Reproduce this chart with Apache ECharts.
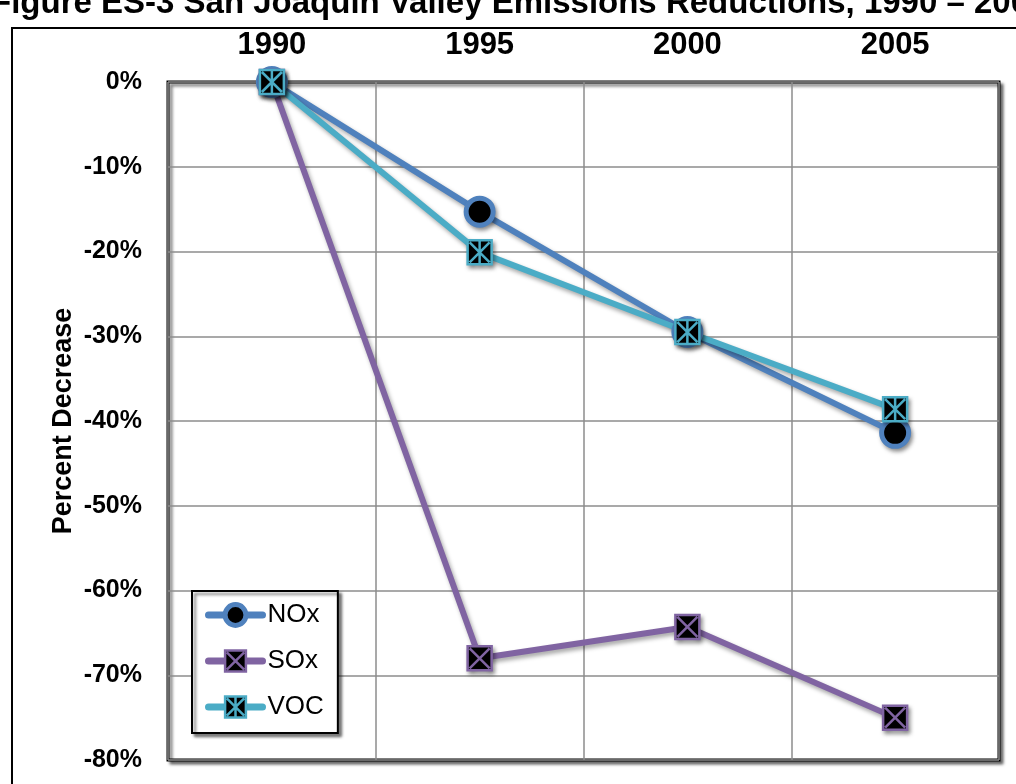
<!DOCTYPE html>
<html>
<head>
<meta charset="utf-8">
<script src="https://cdn.jsdelivr.net/npm/echarts@6/dist/echarts.min.js"></script>
<style>html,body{margin:0;padding:0;background:#fff;}#c{width:1016px;height:784px;}</style>
</head>
<body>
<div id="c"></div>
<script>
const years = ['1990', '1995', '2000', '2005'];
const noxValues = [0, -15.3, -29.5, -41.4];
const soxValues = [0, -68.0, -64.3, -75.0];
const vocValues = [0, -20.1, -29.5, -38.6];
const titleText = 'Figure ES-3 San Joaquin Valley Emissions Reductions, 1990 – 2005';

const FONT = 'Arial, "Liberation Sans", sans-serif';
const shadow = { shadowBlur: 4, shadowColor: 'rgba(0,0,0,0.35)', shadowOffsetX: 2, shadowOffsetY: 3 };
const soxPath = 'path://M0,0H24V24H0Z M2,2L22,22 M22,2L2,22';
const vocPath = 'path://M0,0H24V24H0Z M2,2L22,22 M22,2L2,22 M12,1V23';

function mk(name, data, color, symbol, size, isCircle) {
  return {
    name: name, type: 'line', data: data,
    symbol: symbol, symbolSize: size,
    lineStyle: Object.assign({ color: color, width: 6 }, shadow),
    itemStyle: Object.assign({ color: '#000', borderColor: color, borderWidth: isCircle ? 5 : 2.5 }, shadow),
    emphasis: { disabled: true },
    animation: false
  };
}

const chart = echarts.init(document.getElementById('c'));
chart.setOption({
  animation: false,
  title: {
    text: titleText, left: -14, top: -18,
    textStyle: { fontFamily: FONT, fontSize: 33, fontWeight: 'bold', color: '#000' }
  },
  graphic: [{
    type: 'rect', shape: { x: 12, y: 28, width: 1100, height: 900 },
    style: { fill: 'none', stroke: '#000', lineWidth: 2 }, z: -10
  }],
  grid: {
    left: 168, right: 17, top: 82, bottom: 24,
    show: true, backgroundColor: '#fff', borderColor: '#000', borderWidth: 3,
    shadowBlur: 3, shadowColor: 'rgba(0,0,0,0.5)', shadowOffsetX: 3, shadowOffsetY: 3
  },
  legend: {
    orient: 'vertical', left: 192, top: 591,
    data: ['NOx', 'SOx', 'VOC'],
    itemWidth: 54, itemHeight: 26, itemGap: 20,
    padding: [11, 14, 13, 13],
    backgroundColor: '#fff', borderColor: '#000', borderWidth: 2,
    shadowBlur: 3, shadowColor: 'rgba(0,0,0,0.5)', shadowOffsetX: 3, shadowOffsetY: 3,
    lineStyle: { width: 7, cap: 'round' },
    itemStyle: { borderWidth: 'inherit' },
    textStyle: { fontFamily: FONT, fontSize: 26, color: '#000' },
    selectedMode: false
  },
  xAxis: {
    type: 'category', position: 'top', data: years, boundaryGap: true,
    axisLine: { show: false }, axisTick: { show: false },
    axisLabel: { fontFamily: FONT, fontSize: 31, fontWeight: 'bold', color: '#000', margin: 21 },
    splitLine: { show: true, lineStyle: { color: '#8c8c8c', width: 1.5 } }
  },
  yAxis: {
    type: 'value', min: -80, max: 0, interval: 10,
    name: 'Percent Decrease', nameLocation: 'middle', nameGap: 91, nameMoveOverlap: false,
    nameTextStyle: { fontFamily: FONT, fontSize: 27, fontWeight: 'bold', color: '#000' },
    axisLine: { show: false }, axisTick: { show: false },
    axisLabel: { fontFamily: FONT, fontSize: 25, fontWeight: 'bold', color: '#000', margin: 26, formatter: '{value}%' },
    splitLine: { show: true, lineStyle: { color: '#8c8c8c', width: 1.5 } }
  },
  series: [
    mk('NOx', noxValues, '#4F81BD', 'circle', 27, true),
    mk('SOx', soxValues, '#8064A2', soxPath, 24, false),
    mk('VOC', vocValues, '#4BACC6', vocPath, 24, false)
  ]
});
</script>
</body>
</html>
